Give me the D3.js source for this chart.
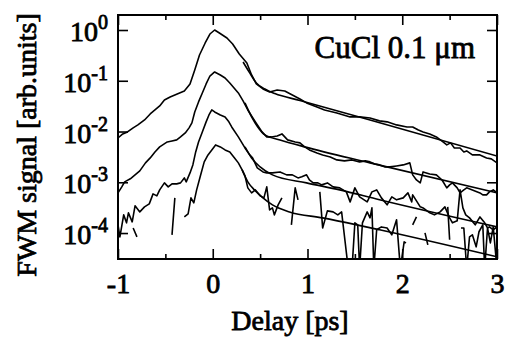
<!DOCTYPE html>
<html>
<head>
<meta charset="utf-8">
<script src="https://cdn.jsdelivr.net/npm/d3@7"></script>
<style>
  html, body { margin: 0; padding: 0; background: #fff; }
  svg { display: block; font-family: "Liberation Serif", "Times New Roman", serif; }
  text { stroke: #000; stroke-width: 0.8px; }
</style>
</head>
<body>
<svg id="chart" width="506" height="340"></svg>
<script>
// Axis ticks
const xTicks = [-1, 0, 1, 2, 3];
const xMinorTicks = [-0.5, 0.5, 1.5, 2.5];
const yTickExponents = [0, -1, -2, -3, -4];

// Trace 1 (top)
const delay1 = [-1.00,-0.95,-0.90,-0.84,-0.79,-0.72,-0.66,-0.61,-0.56,-0.51,-0.45,-0.40,-0.35,-0.30,-0.24,-0.19,-0.14,-0.08,-0.03,0.02,
  0.07,0.15,0.21,0.28,0.36,0.41,0.46,0.53,0.60,0.68,0.76,0.84,0.92,0.99,1.10,1.18,1.31,1.45,1.55,1.66,
  1.76,1.84,1.94,2.05,2.11,2.17,2.22,2.29,2.36,2.43,2.47,2.51,2.55,2.61,2.65,2.68,2.74,2.82,2.89,2.94,3.00];
const signal1 = [0.00747,0.00897,0.00982,0.0118,0.0135,0.0169,0.0222,0.0266,0.0319,0.0419,0.048,0.0525,0.0575,0.063,0.0865,0.163,0.322,0.555,0.834,1.0,
  0.873,0.696,0.530,0.337,0.224,0.130,0.0865,0.069,0.0602,0.0659,0.063,0.0525,0.0438,0.0366,0.0305,0.0266,0.0232,0.0194,0.0194,0.0185,
  0.0162,0.0155,0.0135,0.0123,0.0123,0.0107,0.00982,0.00897,0.00783,0.00624,0.00545,0.00597,0.00475,0.00475,0.00396,0.00415,0.00346,0.00346,0.00302,0.00289,0.00241];

// Trace 2
const delay2 = [-1.00,-0.96,-0.93,-0.87,-0.82,-0.77,-0.71,-0.66,-0.61,-0.56,-0.48,-0.43,-0.38,-0.34,-0.29,-0.25,-0.22,-0.19,-0.15,-0.11,
  -0.07,-0.03,0.02,0.08,0.13,0.18,0.27,0.32,0.37,0.45,0.52,0.57,0.62,0.68,0.73,0.79,0.87,0.92,0.97,1.02,
  1.10,1.16,1.24,1.31,1.39,1.47,1.55,1.61,1.66,1.71,1.76,1.82,1.87,1.94,2.01,2.08,2.11,2.15,2.19,2.22,
  2.29,2.36,2.42,2.47,2.50,2.53,2.58,2.61,2.65,2.68,2.74,2.82,2.85,2.89,2.92,2.96,3.00];
const signal2 = [0.000618,0.000811,0.00102,0.00117,0.0014,0.00168,0.00241,0.00302,0.00396,0.00498,0.00624,0.00653,0.00684,0.00783,0.00938,0.0118,0.0148,0.0243,0.0383,0.0575,
  0.0865,0.124,0.149,0.130,0.1135,0.0905,0.0575,0.040,0.0266,0.0155,0.00982,0.00783,0.00783,0.00819,0.00897,0.00684,0.00624,0.00597,0.00498,0.00434,
  0.00379,0.00346,0.00316,0.00276,0.00264,0.00276,0.00252,0.00264,0.00252,0.0023,0.0022,0.00201,0.00201,0.0021,0.0022,0.00241,0.0014,0.00111,0.000973,0.0016,
  0.00146,0.0014,0.00111,0.000776,0.000889,0.000973,0.000776,0.000618,0.000708,0.000776,0.000708,0.000618,0.000565,0.000565,0.000647,0.000708,0.000618];

// Trace 3
const delay3 = [-1.00,-0.98,-0.94,-0.91,-0.89,-0.85,-0.82,-0.77,-0.72,-0.67,-0.63,-0.59,-0.56,-0.51,-0.47,-0.43,-0.38,-0.34,-0.30,-0.28,
  -0.24,-0.21,-0.18,-0.15,-0.11,-0.07,-0.04,-0.01,0.02,0.08,0.13,0.17,0.20,0.27,0.34,0.39,0.42,0.47,0.53,0.57,
  0.63,0.71,0.78,0.84,0.90,0.94,0.99,1.02,1.06,1.11,1.15,1.21,1.27,1.34,1.41,1.45,1.50,1.55,1.63,1.68,
  1.73,1.78,1.84,1.89,1.94,2.01,2.06,2.10,2.11,2.19,2.22,2.29,2.34,2.40,2.45,2.50,2.53,2.58,2.61,2.64,
  2.67,2.71,2.77,2.82,2.87,2.90,2.92,2.96,3.00];
const signal3 = [0.000145,0.0000841,0.000228,0.000159,0.00025,0.000166,0.000343,0.000261,0.000328,0.000376,0.000591,0.00054,0.000708,0.000973,0.000811,0.000931,0.000931,0.000973,0.00122,0.00102,
  0.00153,0.0022,0.00396,0.00624,0.00982,0.0155,0.0212,0.0266,0.0243,0.0212,0.0194,0.0155,0.0123,0.00783,0.00475,0.00346,0.00302,0.00192,0.0016,0.00153,
  0.00153,0.0016,0.0014,0.0014,0.00122,0.00128,0.0014,0.00111,0.000973,0.000973,0.000889,0.000973,0.000811,0.000776,0.000647,0.000411,0.000776,0.000516,0.000411,0.000647,
  0.000708,0.000493,0.000359,0.000516,0.000451,0.000493,0.000618,0.000411,0.000565,0.000328,0.000313,0.00025,0.000228,0.000261,0.000328,0.000199,0.000159,0.000174,0.000708,0.000313,
  0.000228,0.000199,0.000145,0.000208,0.000159,0.000126,0.000132,0.000116,0.000132];

// Trace 4 (bottom); null = negative signal, not drawn
const delay4 = [-0.84,-0.80,-0.60,-0.43,-0.40,-0.35,
  -0.30,-0.26,-0.23,-0.20,-0.17,-0.13,-0.09,-0.05,-0.01,0.03,0.08,0.13,0.18,0.23,0.27,0.31,0.34,0.37,0.41,0.45,0.50,0.54,0.57,0.60,0.63,0.65,0.69,0.73,0.78,
  0.83,0.87,0.90,1.00,
  1.13,1.16,1.21,1.27,1.32,1.36,1.43,1.47,1.50,1.53,1.55,1.58,1.63,1.66,1.68,1.70,1.73,1.78,1.84,1.89,1.94,1.98,2.02,2.04,2.07,
  2.11,2.15,2.20,2.24,2.27,2.40,2.48,2.50,2.56,
  2.62,2.65,2.68,2.71,2.74,2.78,2.81,2.85,2.87,2.90,2.93,2.96,3.00];
const signal4 = [0.000126,0.0000841,null,0.0000922,0.000493,null,
  0.000208,0.000239,0.000493,0.000393,0.000708,0.00134,0.00252,0.00346,0.00434,0.00545,0.00498,0.00434,0.00396,0.00302,0.00241,0.00175,0.00134,0.000776,0.000618,0.000708,0.00054,0.000493,0.000811,0.000286,0.000313,0.000228,0.000359,0.000493,null,
  0.000145,0.000776,0.000451,null,
  0.000647,0.000126,0.000273,0.000261,0.000228,0.000261,0.00002,0.00002,0.000159,0.000145,0.00002,0.000159,0.000261,0.000199,0.000313,0.00002,0.000116,0.000132,0.000126,0.0000922,0.000182,0.00002,0.0000671,0.0000641,null,
  0.000145,0.000208,null,0.000101,0.0000586,null,0.000328,0.0000735,null,
  0.000126,0.000126,0.00002,0.0000841,0.0000922,0.0000535,0.000106,0.000145,0.00002,0.000126,0.0000641,0.000132,0.00002];

// Exponential fits
const fitDelay1 = [0.32, 0.39, 0.46, 0.55, 0.655, 0.92, 1.66, 3.0];
const fit1 = [0.234, 0.143, 0.0905, 0.069, 0.056, 0.041, 0.0169, 0.0033];
const fitDelay2 = [0.34, 0.41, 0.475, 0.55, 0.71, 0.97, 1.66, 3.0];
const fit2 = [0.0366, 0.0194, 0.0123, 0.00857, 0.00684, 0.00498, 0.00241, 0.000618];
const fitDelay3 = [0.34, 0.41, 0.50, 0.63, 0.99, 1.34, 1.76, 3.0];
const fit3 = [0.00498, 0.00302, 0.00201, 0.0014, 0.000973, 0.000708, 0.000451, 0.000132];
const fitDelay4 = [0.31, 0.37, 0.44, 0.53, 0.63, 0.81, 1.16, 1.52, 1.76, 3.0];
const fit4 = [0.00175, 0.00102, 0.000708, 0.000493, 0.000359, 0.000261, 0.000199, 0.000145, 0.000116, 0.000034];

const margin = { top: 15, right: 9, bottom: 81, left: 118 };
const width = 506 - margin.left - margin.right;
const height = 340 - margin.top - margin.bottom;

const svg = d3.select('#chart');
const g = svg.append('g').attr('transform', `translate(${margin.left},${margin.top})`);

const x = d3.scaleLinear().domain([-1, 3]).range([0, width]);
const y = d3.scaleLog().domain([3.08e-5, 1.975]).range([height, 0]);

g.append('clipPath').attr('id', 'plot-clip')
  .append('rect').attr('width', width).attr('height', height);

// Ticks, all pointing inward
const tickStyle = sel => {
  sel.attr('font-family', null).attr('font-size', null);
  sel.select('.domain').remove();
  sel.selectAll('line').attr('stroke', '#000').attr('stroke-width', 1.6);
};
g.append('g').attr('transform', `translate(0,${height})`)
  .call(d3.axisBottom(x).tickValues(xTicks).tickSize(-10).tickPadding(14).tickFormat(d => String(d)))
  .call(tickStyle)
  .call(s => s.selectAll('text').attr('font-size', 28).attr('fill', '#000'));
g.append('g').attr('transform', `translate(0,${height})`)
  .call(d3.axisBottom(x).tickValues(xMinorTicks).tickSize(-5).tickFormat(() => ''))
  .call(tickStyle);
g.append('g')
  .call(d3.axisTop(x).tickValues(xTicks).tickSize(-10).tickFormat(() => ''))
  .call(tickStyle);
g.append('g')
  .call(d3.axisTop(x).tickValues(xMinorTicks).tickSize(-5).tickFormat(() => ''))
  .call(tickStyle);

const yTickValues = yTickExponents.map(e => Math.pow(10, e));
g.append('g')
  .call(d3.axisLeft(y).tickValues(yTickValues).tickSize(-10).tickFormat(() => ''))
  .call(tickStyle);
g.append('g').attr('transform', `translate(${width},0)`)
  .call(d3.axisRight(y).tickValues(yTickValues).tickSize(-10).tickFormat(() => ''))
  .call(tickStyle);

// 10^n labels
const yLabels = g.selectAll('.ylabel')
  .data(yTickExponents)
  .enter().append('text')
  .attr('class', 'ylabel')
  .attr('x', -10)
  .attr('y', d => y(Math.pow(10, d)) + 11)
  .attr('text-anchor', 'end')
  .attr('font-size', 28)
  .text('10');
yLabels.append('tspan')
  .attr('dy', -12)
  .attr('font-size', 20)
  .text(d => d === 0 ? '0' : '-' + Math.abs(d));

// Frame
g.append('rect')
  .attr('width', width).attr('height', height)
  .attr('fill', 'none').attr('stroke', '#000').attr('stroke-width', 2);

// Traces
const traces = [[delay1, signal1], [delay2, signal2], [delay3, signal3], [delay4, signal4]];
const fits = [[fitDelay1, fit1], [fitDelay2, fit2], [fitDelay3, fit3], [fitDelay4, fit4]];

const dataLine = d3.line()
  .defined(d => d[1] != null)
  .x(d => x(d[0]))
  .y(d => y(d[1]));
const fitLine = d3.line()
  .curve(d3.curveMonotoneX)
  .x(d => x(d[0]))
  .y(d => y(d[1]));

const plot = g.append('g').attr('clip-path', 'url(#plot-clip)');
plot.selectAll('.trace')
  .data(traces)
  .enter().append('path')
  .attr('class', 'trace')
  .attr('fill', 'none')
  .attr('stroke', '#000')
  .attr('stroke-width', 1.6)
  .attr('stroke-linejoin', 'round')
  .attr('d', t => dataLine(t[0].map((d, i) => [d, t[1][i]])));
plot.selectAll('.fit')
  .data(fits)
  .enter().append('path')
  .attr('class', 'fit')
  .attr('fill', 'none')
  .attr('stroke', '#000')
  .attr('stroke-width', 1.6)
  .attr('d', f => fitLine(f[0].map((d, i) => [d, f[1][i]])));

// Titles
svg.append('text')
  .attr('x', 290).attr('y', 330)
  .attr('text-anchor', 'middle')
  .attr('font-size', 28)
  .text('Delay [ps]');
svg.append('text')
  .attr('transform', 'translate(36,145) rotate(-90)')
  .attr('text-anchor', 'middle')
  .attr('font-size', 28)
  .text('FWM signal [arb.units]');
svg.append('text')
  .attr('x', 475).attr('y', 58)
  .attr('text-anchor', 'end')
  .attr('font-size', 31)
  .text('CuCl 0.1 μm');
</script>
</body>
</html>
